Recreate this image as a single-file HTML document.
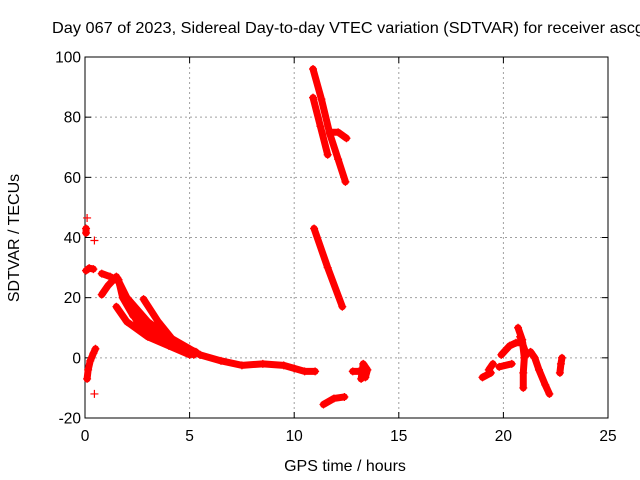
<!DOCTYPE html>
<html><head><meta charset="utf-8"><style>
body{margin:0;background:#fff;}
svg{display:block;font-family:"Liberation Sans",sans-serif;}
</style></head><body>
<svg id="chart" width="640" height="480" viewBox="0 0 640 480">
<text x="52" y="33" font-size="16" textLength="592" lengthAdjust="spacingAndGlyphs">Day 067 of 2023, Sidereal Day-to-day VTEC variation (SDTVAR) for receiver ascg</text>
<g id="grid"></g>
<g id="axes"></g>
<g id="marks"></g>
<text x="345" y="471" font-size="16" text-anchor="middle">GPS time / hours</text>
<text transform="translate(19,238) rotate(-90)" font-size="16" text-anchor="middle">SDTVAR / TECUs</text>
</svg>
<script>
const xTicks=[0,5,10,15,20,25];
const yTicks=[-20,0,20,40,60,80,100];
// each track: array of [hour, sdtvar]
const tracks=[
 [[0.1,46.5]],[[0.05,43],[0.05,41.5]],[[0.45,39]],
 [[0.05,29],[0.2,29.8],[0.4,29.5]],
 [[0.1,-7],[0.15,-4],[0.25,-1],[0.4,1.5],[0.5,3]],
 [[0.45,-12]],
 [[0.8,28],[1.2,27],[1.6,25.5],[2.0,18],[2.5,12],[3.5,7],[4.5,3],[5.2,1]],
 [[0.8,21],[1.1,24],[1.5,27],[2.0,20],[3.0,12],[4.0,7],[5.0,3],[5.5,1]],
 [[1.5,17],[2.0,12],[3.0,7],[4.0,4],[5.0,1]],
 [[2.8,19.5],[3.5,12],[4.2,6],[5.0,2]],
 [[3.8,8],[4.5,4],[5.3,2]],
 [[1.6,26],[1.8,20],[2.3,14],[3.0,10],[3.6,8]],
 [[5.5,1],[6.5,-1],[7.5,-2.5],[8.5,-2],[9.5,-2.5],[10,-3.5],[10.5,-4.5],[11,-4.5]],
 [[10.9,96],[11.3,86],[11.7,74.5],[12.1,66],[12.45,58.5]],
 [[11.7,75],[12.1,75],[12.5,73]],
 [[10.9,86.5],[11.25,77],[11.6,67.5]],
 [[10.95,43],[11.6,30],[12.3,17]],
 [[11.4,-15.5],[11.9,-13.5],[12.4,-13]],
 [[12.8,-4.5],[13.1,-4.5]],[[13.2,-7],[13.3,-2],[13.5,-4],[13.4,-6.5]],
 [[19.0,-6.5],[19.4,-5]],[[19.3,-4],[19.5,-2]],
 [[19.9,1],[20.3,4],[20.6,5],[20.9,5]],
 [[19.8,-3],[20.4,-2]],
 [[20.7,10],[20.9,6],[21.0,0],[20.95,-5],[20.95,-10]],
 [[20.8,7],[21.1,1]],
 [[21.3,2],[21.5,0],[21.7,-4],[22.0,-9],[22.2,-12]],
 [[22.7,-5],[22.75,-2],[22.8,0]]
];
const L=85,R=608,T=57,B=418;
const xs=v=>L+(v-0)/(25-0)*(R-L);
const ys=v=>B-(v+20)/120*(B-T);
const NS="http://www.w3.org/2000/svg";
function mk(tag,attrs,parent){const e=document.createElementNS(NS,tag);for(const k in attrs)e.setAttribute(k,attrs[k]);parent.appendChild(e);return e;}
const grid=document.getElementById('grid'),axes=document.getElementById('axes'),marks=document.getElementById('marks');
xTicks.forEach(t=>{
 if(t>0&&t<25){const g=mk('line',{x1:xs(t),x2:xs(t),y1:T,y2:B,stroke:'#a0a0a0','stroke-dasharray':'2,3'},grid);
 
 }
 mk('line',{x1:xs(t),x2:xs(t),y1:B,y2:B-6,stroke:'#000'},axes);
 mk('line',{x1:xs(t),x2:xs(t),y1:T,y2:T+6,stroke:'#000'},axes);
 const tx=mk('text',{x:xs(t),y:B+23,'font-size':'15.5','text-anchor':'middle'},axes);tx.textContent=t;
 
 
});
yTicks.forEach(t=>{
 if(t>-20&&t<100){const g=mk('line',{x1:L,x2:R,y1:ys(t),y2:ys(t),stroke:'#a0a0a0','stroke-dasharray':'2,3'},grid);
 
 }
 mk('line',{x1:L,x2:L+6,y1:ys(t),y2:ys(t),stroke:'#000'},axes);
 mk('line',{x1:R,x2:R-6,y1:ys(t),y2:ys(t),stroke:'#000'},axes);
 const tx=mk('text',{x:L-4,y:ys(t)+5.5,'font-size':'15.5','text-anchor':'end'},axes);tx.textContent=t;
 
 
});
const fr=mk('rect',{x:L,y:T,width:R-L,height:B-T,fill:'none',stroke:'#000'},axes);


tracks.forEach(tr=>{
 const pts=tr.map(p=>xs(p[0])+','+ys(p[1])).join(' ');
 const pl=mk('polyline',{points:pts,fill:'none',stroke:'#f00','stroke-width':7,'stroke-linecap':'round','stroke-linejoin':'round'},marks);
 
 
 tr.forEach(p=>{
  const x=xs(p[0]),y=ys(p[1]);
  const m=mk('path',{d:`M${x-4},${y}H${x+4}M${x},${y-4}V${y+4}`,stroke:'#f00','stroke-width':1.2},marks);
  
  
 });
});
</script>
</body></html>
